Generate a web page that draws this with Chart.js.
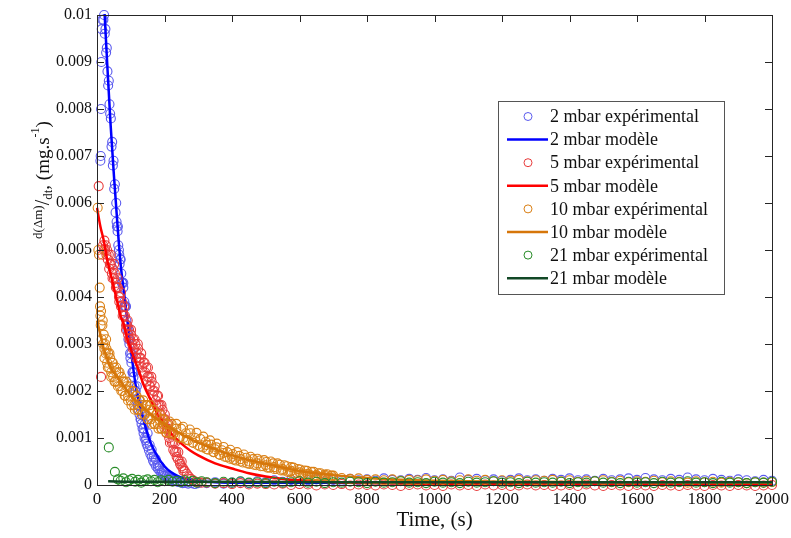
<!DOCTYPE html>
<html>
<head>
<meta charset="utf-8">
<title>d(Δm)/dt</title>
<script src="https://cdn.jsdelivr.net/npm/chart.js@4.4.1/dist/chart.umd.min.js"></script>
<style>
  body { margin: 0; background: #fff; }
  #c { display: block; }
</style>
</head>
<body>
<canvas id="c" width="791" height="538"></canvas>
<script>
// Axes
const xTicks = [0, 200, 400, 600, 800, 1000, 1200, 1400, 1600, 1800, 2000];
const yTicks = [0, 0.001, 0.002, 0.003, 0.004, 0.005, 0.006, 0.007, 0.008, 0.009, 0.01];
const yTickLabels = ['0', '0.001', '0.002', '0.003', '0.004', '0.005', '0.006', '0.007', '0.008', '0.009', '0.01'];

const seriesLabels = [
    '2 mbar expérimental', '2 mbar modèle',
    '5 mbar expérimental', '5 mbar modèle',
    '10 mbar expérimental', '10 mbar modèle',
    '21 mbar expérimental', '21 mbar modèle'
];

// Temps communs pour la traîne (325 s -> 2000 s)
const tailT = [
    325, 350, 375, 400, 425, 450, 475, 500, 525, 550,
    575, 600, 625, 650, 675, 700, 725, 750, 775, 800,
    825, 850, 875, 900, 925, 950, 975, 1000, 1025, 1050,
    1075, 1100, 1125, 1150, 1175, 1200, 1225, 1250, 1275, 1300,
    1325, 1350, 1375, 1400, 1425, 1450, 1475, 1500, 1525, 1550,
    1575, 1600, 1625, 1650, 1675, 1700, 1725, 1750, 1775, 1800,
    1825, 1850, 1875, 1900, 1925, 1950, 1975, 2000
];

// 2 mbar
const blueExpT = [10, 11, 12, 13, 14, 16,
    19, 21, 23, 25, 27, 29, 31, 33, 35, 37, 39, 41, 43, 45, 47, 49, 51, 53, 55, 57, 59, 61, 63, 65, 67, 69,
    72, 75, 78, 81, 84, 87, 90, 93, 96, 99, 102, 105, 108, 111, 114, 117,
    120, 123, 126, 129, 132, 135, 138, 141, 144, 147, 150,
    154, 158, 162, 166, 170, 175, 180, 185, 190, 195, 200,
    206, 212, 218, 224, 230, 238, 246, 254, 262, 270, 280, 290, 300];
const blueExpV = [0.0069, 0.0070, 0.0080, 0.0090, 0.0097, 0.0099,
    0.0099, 0.0100, 0.0096, 0.0097, 0.0092, 0.0093, 0.0088, 0.0085, 0.0086, 0.0081, 0.0079, 0.0078, 0.0072, 0.0073, 0.0068, 0.0069, 0.0063, 0.0064, 0.0058, 0.0060, 0.0055, 0.0054, 0.0051, 0.0050, 0.0047, 0.0048,
    0.0045, 0.0043, 0.0042, 0.0039, 0.0038, 0.0035, 0.0034, 0.0031, 0.0030, 0.0027, 0.0026, 0.0024, 0.0023, 0.0021, 0.0020, 0.0018,
    0.0017, 0.0016, 0.0015, 0.0014, 0.0013, 0.0012, 0.0011, 0.0010, 0.00095, 0.00088, 0.00082,
    0.00074, 0.00066, 0.0006, 0.00052, 0.00047, 0.0004, 0.00035, 0.00031, 0.00026, 0.00023, 0.0002,
    0.00017, 0.00014, 0.00012, 0.0001, 0.00009, 0.00007, 0.00006, 0.00004, 0.00005, 0.00003, 0.00004, 0.00002, 0.00004];
const blueExp2T = [58, 62, 66, 70, 74, 78, 82, 86, 90, 94,
    98, 102, 106, 110, 114, 118, 122, 126, 130, 134,
    138, 142, 146, 150, 156, 162, 168, 174, 180, 186,
    192, 198, 205, 212, 220, 228, 236, 245];
const blueExp2V = [0.0056, 0.0055, 0.0049, 0.0048, 0.0043, 0.0043, 0.0038, 0.0038, 0.0033, 0.0033,
    0.0028, 0.0028, 0.0024, 0.0024, 0.0020, 0.0021, 0.0017, 0.0018, 0.0014, 0.0015,
    0.0012, 0.0013, 0.0010, 0.0011, 0.00085, 0.00075, 0.0006, 0.00055, 0.00042, 0.0004,
    0.0003, 0.00028, 0.0002, 0.00018, 0.00013, 0.0001, 0.00008, 0.00006];
const blueTailV = [
    0.00004, 0.00006, 0.00003, 0.00005, 0.00007, 0.00004, 0.00008, 0.00006, 0.0001, 0.00007,
    0.00011, 0.00008, 0.0001, 0.00012, 0.00008, 0.00011, 0.00009, 0.00013, 0.0001, 0.00012,
    0.00009, 0.00014, 0.00011, 0.0001, 0.00013, 0.00011, 0.00015, 0.0001, 0.00012, 0.00009,
    0.00016, 0.00011, 0.00013, 0.0001, 0.00012, 0.00009, 0.00011, 0.00014, 0.0001, 0.00012,
    0.00009, 0.00013, 0.00011, 0.00014, 0.0001, 0.00012, 0.00009, 0.00013, 0.0001, 0.00012,
    0.00014, 0.00011, 0.00015, 0.00012, 0.0001, 0.00013, 0.00011, 0.00016, 0.00012, 0.0001,
    0.00013, 0.00011, 0.00009, 0.00012, 0.0001, 0.00008, 0.00011, 0.00009
];
const blueModelT = [22, 30, 40, 50, 60, 70, 80, 90, 100, 115, 130, 145, 160, 180, 200, 220, 240, 260, 280, 300, 350, 400, 600, 1000, 1500, 2000];
const blueModelV = [0.0101, 0.0090, 0.0077, 0.0066, 0.0056, 0.0047, 0.0041, 0.0035, 0.0029, 0.0021, 0.0016, 0.0012, 0.00088, 0.0006, 0.0004, 0.00027, 0.00019, 0.00014, 0.0001, 0.00008, 0.00006, 0.00005, 0.00005, 0.00005, 0.00005, 0.00005];

// 5 mbar
const redExpT = [5, 12, 16, 18, 20, 22, 24, 26, 28, 30, 32,
    35, 38, 41, 44, 47, 50, 53, 56, 59, 62, 65, 68, 71, 74, 77, 80, 83, 86, 89, 92, 95, 98, 101, 104, 107, 110,
    114, 118, 122, 126, 130, 134, 138, 142, 146, 150, 154, 158, 162, 166, 170, 174, 178, 182, 186, 190, 194, 198, 202, 206, 210, 214, 218, 222, 226, 230,
    235, 240, 245, 250, 255, 260, 266, 272, 278, 285, 292, 300, 310];
const redExpV = [0.00636, 0.0023, 0.0049, 0.0051, 0.0050, 0.0052, 0.0050, 0.0051, 0.0049, 0.0050, 0.0048,
    0.0049, 0.0047, 0.0047, 0.0045, 0.0046, 0.0044, 0.0045, 0.0043, 0.0042, 0.0042, 0.0040, 0.0040, 0.0038, 0.0039, 0.0037, 0.0036, 0.0036, 0.0034, 0.0034, 0.0032, 0.0033, 0.0031, 0.0032, 0.0030, 0.0031, 0.0029,
    0.0030, 0.0028, 0.0029, 0.0027, 0.0027, 0.0025, 0.0026, 0.0024, 0.0025, 0.0023, 0.0023, 0.0021, 0.0022, 0.0020, 0.0020, 0.0018, 0.0019, 0.0017, 0.0017, 0.0015, 0.0016, 0.0014, 0.0014, 0.0012, 0.0012, 0.0010, 0.0011, 0.0009, 0.0009, 0.0007,
    0.0007, 0.00055, 0.0005, 0.0004, 0.00036, 0.0003, 0.00024, 0.00018, 0.00013, 0.0001, 0.00007, 0.00006, 0.00005];
const redExp2T = [36, 41, 46, 51, 56, 61, 66, 71, 76, 81,
    86, 91, 96, 101, 106, 111, 116, 121, 126, 131,
    136, 141, 146, 151, 156, 161, 166, 171, 176, 181,
    186, 191, 196, 201, 206, 211, 216, 221, 226, 231,
    236, 241, 246, 251, 256];
const redExp2V = [0.0046, 0.0049, 0.0044, 0.0047, 0.0042, 0.0044, 0.0039, 0.0041, 0.0036, 0.0038,
    0.0033, 0.0035, 0.0031, 0.0033, 0.0029, 0.0031, 0.0027, 0.0030, 0.0026, 0.0028,
    0.0024, 0.0026, 0.0022, 0.0025, 0.0021, 0.0023, 0.0019, 0.0021, 0.0017, 0.0019,
    0.0015, 0.0017, 0.0013, 0.0015, 0.0011, 0.0013, 0.0009, 0.0011, 0.00075, 0.0009,
    0.0006, 0.0007, 0.00045, 0.0005, 0.0003];
const redTailV = [
    0.00005, 0.00003, 0.00004, 0.00002, 0.00004, 0.00001, 0.00003, 0.00002, 0.00001, 0.00003,
    0, 0.00002, 0.00001, -0.00001, 0.00001, 0, 0.00002, -0.00001, 0.00001, 0,
    -0.00001, 0.00001, 0, -0.00002, 0, 0.00001, -0.00001, 0, -0.00002, 0.00001,
    -0.00001, 0, -0.00002, 0.00001, -0.00001, 0, -0.00002, -0.00001, 0.00001, -0.00001,
    0, -0.00002, -0.00001, 0, -0.00002, 0.00001, -0.00001, -0.00002, 0, -0.00001,
    -0.00002, 0, -0.00001, -0.00002, 0, -0.00001, -0.00002, 0, -0.00001, -0.00002,
    0, -0.00001, -0.00002, 0, -0.00001, -0.00002, -0.00001, 0
];
const redModelT = [0, 10, 20, 30, 40, 50, 60, 70, 80, 90, 100, 120, 140, 160, 180, 200, 225, 250, 275, 300, 350, 400, 450, 500, 550, 600, 700, 800, 1000, 1500, 2000];
const redModelV = [0.0059, 0.0055, 0.0052, 0.0048, 0.0045, 0.0042, 0.0039, 0.0036, 0.0034, 0.0031, 0.0029, 0.0025, 0.0021, 0.0018, 0.0015, 0.00128, 0.00105, 0.00088, 0.00074, 0.00063, 0.00046, 0.00035, 0.00025, 0.00018, 0.00013, 0.0001, 0.00006, 0.00004, 0.00002, 0.00001, 0.00001];

// 10 mbar
const orangeExpT = [2, 4, 6, 8, 9, 10, 11, 12,
    14, 16, 18, 20, 22, 24, 26, 28, 30,
    33, 36, 39, 42, 45, 48, 51, 54, 57, 60,
    64, 68, 72, 76, 80, 84, 88, 92, 96, 100,
    105, 110, 115, 120, 125, 130, 135, 140, 145, 150, 155, 160, 165, 170, 175, 180, 185, 190, 195, 200,
    207, 214, 221, 228, 235, 242, 249, 256, 263, 270, 277, 284, 291, 298,
    306, 314, 322, 330, 338, 346, 354, 362, 370, 378, 386, 394, 402,
    412, 422, 432, 442, 452, 462, 472, 482, 492, 502, 512, 522, 532, 542, 552, 562, 572, 582, 592, 602, 612, 622, 632, 642, 652, 662, 672, 682, 692,
    700];
const orangeExpV = [0.0059, 0.0050, 0.0049, 0.0042, 0.0038, 0.0036, 0.0034, 0.0037,
    0.0031, 0.0034, 0.0030, 0.0032, 0.0029, 0.0030, 0.0028, 0.0029, 0.0026,
    0.0028, 0.0025, 0.0027, 0.0024, 0.0026, 0.0023, 0.0025, 0.0022, 0.0024, 0.0022,
    0.0024, 0.0021, 0.0023, 0.0020, 0.0022, 0.0019, 0.0021, 0.0019, 0.0020, 0.0018,
    0.0020, 0.0017, 0.0019, 0.0016, 0.0018, 0.0016, 0.0017, 0.0015, 0.0017, 0.0014, 0.0016, 0.0014, 0.0016, 0.0013, 0.0015, 0.0013, 0.0014, 0.0012, 0.0014, 0.0012,
    0.0013, 0.0011, 0.0013, 0.0011, 0.0012, 0.0010, 0.0012, 0.0010, 0.0011, 0.00095, 0.0011, 0.0009, 0.001, 0.00085,
    0.00098, 0.0008, 0.00092, 0.00075, 0.00086, 0.0007, 0.0008, 0.00065, 0.00074, 0.0006, 0.0007, 0.00056, 0.00066,
    0.00052, 0.00062, 0.00048, 0.00058, 0.00045, 0.00055, 0.00042, 0.00052, 0.0004, 0.00049, 0.00037, 0.00046, 0.00034, 0.00043, 0.00031, 0.0004, 0.00028, 0.00037, 0.00026, 0.00033, 0.00023, 0.0003, 0.00021, 0.00028, 0.00019, 0.00025, 0.00017, 0.00023, 0.00015,
    0.0002];
const orangeExp2T = [17, 22, 27, 32, 37, 42, 47, 52, 57, 62,
    67, 72, 77, 82, 87, 92, 97, 102, 107, 112,
    117, 122, 127, 132, 137, 142, 147, 152, 157, 162,
    167, 172, 177, 182, 187, 192, 197,
    205, 215, 225, 235, 245, 255, 265, 275, 285, 295,
    305, 315, 325, 335, 345, 355, 365, 375, 385, 395,
    405, 415, 425, 435, 445, 455, 465, 475, 485, 495,
    505, 515, 525, 535, 545, 555, 565, 575, 585, 595,
    605, 615, 625, 635, 645, 655, 665, 675, 685, 695];
const orangeExp2V = [0.0035, 0.0027, 0.0031, 0.0025, 0.0028, 0.0023, 0.0026, 0.0022, 0.0025, 0.0021,
    0.0024, 0.0020, 0.0022, 0.0019, 0.0022, 0.0018, 0.0021, 0.0017, 0.0020, 0.0016,
    0.0019, 0.0016, 0.0018, 0.0015, 0.0018, 0.0015, 0.0017, 0.0014, 0.0017, 0.0013,
    0.0016, 0.0013, 0.0015, 0.0012, 0.0015, 0.0012, 0.0014,
    0.00112, 0.00135, 0.00108, 0.0013, 0.00102, 0.00124, 0.00096, 0.00118, 0.0009, 0.00111,
    0.00082, 0.00103, 0.00076, 0.00095, 0.0007, 0.00088, 0.00064, 0.00081, 0.00059, 0.00075,
    0.00054, 0.0007, 0.0005, 0.00065, 0.00046, 0.0006, 0.00043, 0.00056, 0.0004, 0.00053,
    0.00037, 0.0005, 0.00034, 0.00046, 0.00031, 0.00042, 0.00028, 0.00038, 0.00025, 0.00034,
    0.00023, 0.00031, 0.0002, 0.00028, 0.00018, 0.00025, 0.00016, 0.00022, 0.00014, 0.0002];
const orangeTailV = [
    0.00085, 0.00076, 0.00068, 0.0006, 0.00055, 0.0005, 0.00046, 0.00042, 0.00038, 0.00034,
    0.0003, 0.00027, 0.00024, 0.00021, 0.00019, 0.00016, 0.00015, 0.00013, 0.00014, 0.00011,
    0.00012, 0.0001, 0.00012, 0.00009, 0.00011, 0.0001, 0.00012, 0.00009, 0.00011, 0.00008,
    0.0001, 0.00012, 0.00009, 0.00011, 0.00008, 0.0001, 0.00009, 0.00011, 0.00008, 0.0001,
    0.00009, 0.00011, 0.00008, 0.0001, 0.00007, 0.00009, 0.00008, 0.0001, 0.00007, 0.00009,
    0.00006, 0.00008, 0.00007, 0.00009, 0.00006, 0.00008, 0.00007, 0.00005, 0.00008, 0.00006,
    0.00007, 0.00005, 0.00007, 0.00006, 0.00004, 0.00006, 0.00005, 0.00006
];
const orangeModelT = [0, 10, 20, 30, 40, 60, 80, 100, 130, 160, 200, 250, 300, 350, 400, 450, 500, 550, 600, 650, 700, 800, 900, 1000, 1200, 1500, 2000];
const orangeModelV = [0.0035, 0.0032, 0.0029, 0.0027, 0.0025, 0.0023, 0.0021, 0.0019, 0.0017, 0.0015, 0.0013, 0.00108, 0.0009, 0.00076, 0.00063, 0.00053, 0.00045, 0.00037, 0.0003, 0.00025, 0.00021, 0.00015, 0.00011, 0.00009, 0.00007, 0.00006, 0.00005];

// 21 mbar
const greenExpT = [35, 53, 62, 70, 78, 86, 95, 104, 113, 122, 131, 140,
    150, 160, 170, 180, 190, 200, 212, 224, 236, 248, 260, 272, 284, 296, 310];
const greenExpV = [0.0008, 0.00028, 0.00012, 0.00009, 0.00014, 0.00006, 0.0001, 0.00013, 0.00007, 0.00011, 0.00005, 0.0001,
    0.00012, 0.00008, 0.00011, 0.00006, 0.0001, 0.00008, 0.00011, 0.00007, 0.00009, 0.00006, 0.0001, 0.00007, 0.00009, 0.00005, 0.00008];
const greenTailV = [
    0.00006, 0.00004, 0.00007, 0.00005, 0.00008, 0.00005, 0.00006, 0.00004, 0.00007, 0.00005,
    0.00006, 0.00008, 0.00005, 0.00007, 0.00004, 0.00006, 0.00005, 0.00007, 0.00006, 0.00004,
    0.00007, 0.00005, 0.00006, 0.00008, 0.00005, 0.00006, 0.00004, 0.00007, 0.00005, 0.00006,
    0.00004, 0.00007, 0.00005, 0.00006, 0.00008, 0.00005, 0.00006, 0.00004, 0.00007, 0.00005,
    0.00006, 0.00005, 0.00007, 0.00004, 0.00006, 0.00005, 0.00008, 0.00005, 0.00006, 0.00004,
    0.00007, 0.00005, 0.00006, 0.00004, 0.00007, 0.00005, 0.00006, 0.00008, 0.00005, 0.00006,
    0.00004, 0.00007, 0.00005, 0.00006, 0.00004, 0.00006, 0.00005, 0.00007
];
const greenModelT = [33, 100, 300, 700, 1200, 2000];
const greenModelV = [0.00008, 0.00007, 0.00007, 0.00006, 0.00006, 0.00006];

// Couleurs
const expColors = ['rgb(90,90,238)', 'rgb(232,60,60)', 'rgb(218,128,22)', 'rgb(40,140,40)'];
const modelColors = ['rgb(0,0,255)', 'rgb(255,0,0)', 'rgb(214,118,10)', 'rgb(18,72,38)'];

const SERIF = '"Liberation Serif", "DejaVu Serif", serif';

function toPoints(T, V) {
    const n = Math.min(T.length, V.length);
    const pts = [];
    for (let i = 0; i < n; i++) pts.push({ x: T[i], y: V[i] });
    return pts;
}

function expDataset(idx, points, order) {
    return {
        label: seriesLabels[idx * 2],
        data: points,
        showLine: false,
        pointStyle: 'circle',
        pointRadius: 4.5,
        pointBorderWidth: 1.1,
        pointBorderColor: expColors[idx],
        pointBackgroundColor: 'rgba(0,0,0,0)',
        borderColor: expColors[idx],
        clip: 8,
        order: order
    };
}

function modelDataset(idx, T, V, order) {
    return {
        label: seriesLabels[idx * 2 + 1],
        data: toPoints(T, V),
        showLine: true,
        pointRadius: 0,
        borderColor: modelColors[idx],
        borderWidth: 2.5,
        cubicInterpolationMode: 'monotone',
        clip: 1,
        order: order
    };
}

// Cadre, graduations, textes et légende (style Matlab)
const framePlugin = {
    id: 'frame',
    afterDraw(chart) {
        const ctx = chart.ctx;
        const a = chart.chartArea;
        const xs = chart.scales.x;
        const ys = chart.scales.y;
        ctx.save();

        ctx.strokeStyle = '#262626';
        ctx.lineWidth = 1;
        ctx.strokeRect(Math.round(a.left) + 0.5, Math.round(a.top) + 0.5,
            Math.round(a.right - a.left), Math.round(a.bottom - a.top));

        const tl = 7;
        ctx.beginPath();
        xTicks.forEach(v => {
            const px = Math.round(xs.getPixelForValue(v)) + 0.5;
            ctx.moveTo(px, a.bottom); ctx.lineTo(px, a.bottom - tl);
            ctx.moveTo(px, a.top); ctx.lineTo(px, a.top + tl);
        });
        yTicks.forEach(v => {
            const py = Math.round(ys.getPixelForValue(v)) + 0.5;
            ctx.moveTo(a.left, py); ctx.lineTo(a.left + tl, py);
            ctx.moveTo(a.right, py); ctx.lineTo(a.right - tl, py);
        });
        ctx.stroke();

        ctx.fillStyle = '#111';
        ctx.font = '16px ' + SERIF;
        ctx.textAlign = 'right';
        ctx.textBaseline = 'middle';
        yTicks.forEach((v, i) => {
            ctx.fillText(yTickLabels[i], a.left - 5, ys.getPixelForValue(v));
        });
        ctx.font = '17px ' + SERIF;
        ctx.textAlign = 'center';
        ctx.textBaseline = 'top';
        xTicks.forEach(v => {
            ctx.fillText(String(v), xs.getPixelForValue(v), a.bottom + 6);
        });

        // titre axe x
        ctx.font = '21px ' + SERIF;
        ctx.textBaseline = 'middle';
        ctx.fillText('Time, (s)', (a.left + a.right) / 2, 520);

        // titre axe y : d(Δm)/dt, (mg.s-1)
        const parts = [
            { t: 'd(Δm)', f: 13, dy: -5 },
            { t: '/', f: 20, dy: 0 },
            { t: 'dt', f: 13, dy: 5 },
            { t: ', (mg.s', f: 19, dy: 0 },
            { t: '-1', f: 12, dy: -8 },
            { t: ')', f: 19, dy: 0 }
        ];
        let total = 0;
        parts.forEach(p => {
            ctx.font = p.f + 'px ' + SERIF;
            p.w = ctx.measureText(p.t).width;
            total += p.w;
        });
        ctx.save();
        ctx.translate(44, 180);
        ctx.rotate(-Math.PI / 2);
        ctx.textAlign = 'left';
        ctx.textBaseline = 'middle';
        let cx = -total / 2;
        parts.forEach(p => {
            ctx.font = p.f + 'px ' + SERIF;
            ctx.fillText(p.t, cx, p.dy);
            cx += p.w;
        });
        ctx.restore();

        // légende
        const lx = 498, ly = 101, lw = 226, lh = 193;
        ctx.fillStyle = '#fff';
        ctx.fillRect(lx, ly, lw, lh);
        ctx.strokeStyle = '#555';
        ctx.lineWidth = 1;
        ctx.strokeRect(lx + 0.5, ly + 0.5, lw, lh);
        ctx.font = '18px ' + SERIF;
        ctx.textAlign = 'left';
        ctx.textBaseline = 'middle';
        seriesLabels.forEach((lab, i) => {
            const yy = 116.5 + i * 23.1;
            const s = Math.floor(i / 2);
            if (i % 2 === 0) {
                ctx.strokeStyle = expColors[s];
                ctx.lineWidth = 1;
                ctx.beginPath();
                ctx.arc(528, yy, 4, 0, Math.PI * 2);
                ctx.stroke();
            } else {
                ctx.strokeStyle = modelColors[s];
                ctx.lineWidth = 2.5;
                ctx.beginPath();
                ctx.moveTo(507, yy); ctx.lineTo(548, yy);
                ctx.stroke();
            }
            ctx.fillStyle = '#111';
            ctx.fillText(lab, 550, yy + 1);
        });

        ctx.restore();
    }
};

new Chart(document.getElementById('c'), {
    type: 'scatter',
    data: {
        datasets: [
            expDataset(0, [].concat(toPoints(blueExpT, blueExpV), toPoints(blueExp2T, blueExp2V), toPoints(tailT, blueTailV)), 8),
            modelDataset(0, blueModelT, blueModelV, 7),
            expDataset(1, [].concat(toPoints(redExpT, redExpV), toPoints(redExp2T, redExp2V), toPoints(tailT, redTailV)), 6),
            modelDataset(1, redModelT, redModelV, 5),
            expDataset(2, [].concat(toPoints(orangeExpT, orangeExpV), toPoints(orangeExp2T, orangeExp2V), toPoints(tailT, orangeTailV)), 4),
            modelDataset(2, orangeModelT, orangeModelV, 3),
            expDataset(3, [].concat(toPoints(greenExpT, greenExpV), toPoints(tailT, greenTailV)), 2),
            modelDataset(3, greenModelT, greenModelV, 1)
        ]
    },
    options: {
        responsive: false,
        animation: false,
        devicePixelRatio: 1,
        layout: { padding: { left: 97, right: 19, top: 15, bottom: 53 } },
        plugins: {
            legend: { display: false },
            tooltip: { enabled: false }
        },
        scales: {
            x: { type: 'linear', min: 0, max: 2000, display: false },
            y: { type: 'linear', min: 0, max: 0.01, display: false }
        }
    },
    plugins: [framePlugin]
});
</script>
</body>
</html>
